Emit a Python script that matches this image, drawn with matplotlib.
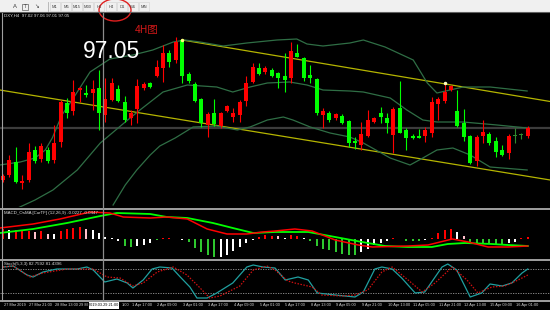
import matplotlib
matplotlib.use('Agg')
import matplotlib.pyplot as plt
import numpy as np
from matplotlib.patches import Rectangle, Ellipse
from matplotlib.lines import Line2D

# ---- DXY H4 candles (index 0 = 27 Mar 2019) ----
opens = [96.842, 96.862, 96.914, 96.830, 96.842, 96.962, 96.926, 96.962, 96.922, 96.994,
         97.150, 97.118, 97.202, 97.190, 97.190, 97.210, 97.102, 97.162, 97.206, 97.154,
         97.090, 97.126, 97.210, 97.230, 97.258, 97.290, 97.350, 97.322, 97.402, 97.266,
         97.226, 97.166, 97.062, 97.110, 97.058, 97.118, 97.094, 97.102, 97.158, 97.234,
         97.290, 97.274, 97.282, 97.270, 97.258, 97.250, 97.350, 97.330, 97.262, 97.246,
         97.102, 97.110, 97.090, 97.098, 97.078, 96.998, 96.982, 97.018, 97.074, 97.110,
         97.090, 97.022, 97.130, 97.042, 97.018, 97.018, 97.018, 97.030, 97.146, 97.158,
         97.202, 97.118, 97.070, 97.018, 96.918, 97.018, 97.026, 96.998, 96.962, 96.950,
         97.018, 97.022, 97.020]
highs = [96.866, 96.942, 96.974, 96.862, 96.990, 96.978, 96.990, 96.974, 97.062, 97.162,
         97.170, 97.242, 97.214, 97.222, 97.242, 97.282, 97.250, 97.250, 97.222, 97.178,
         97.122, 97.246, 97.234, 97.234, 97.322, 97.382, 97.362, 97.414, 97.406, 97.274,
         97.234, 97.170, 97.114, 97.166, 97.114, 97.142, 97.130, 97.162, 97.258, 97.310,
         97.310, 97.298, 97.290, 97.274, 97.350, 97.394, 97.386, 97.334, 97.302, 97.250,
         97.130, 97.118, 97.110, 97.106, 97.082, 97.014, 97.074, 97.122, 97.094, 97.134,
         97.110, 97.134, 97.238, 97.050, 97.026, 97.046, 97.054, 97.174, 97.174, 97.230,
         97.222, 97.202, 97.126, 97.022, 97.022, 97.082, 97.034, 97.014, 96.982, 97.026,
         97.050, 97.030, 97.060]
lows = [96.834, 96.854, 96.830, 96.806, 96.834, 96.910, 96.914, 96.910, 96.910, 96.974,
        97.090, 97.102, 97.154, 97.174, 97.122, 97.042, 97.074, 97.158, 97.154, 97.074,
        97.062, 97.070, 97.202, 97.210, 97.254, 97.234, 97.294, 97.310, 97.230, 97.230,
        97.154, 97.054, 97.014, 97.058, 97.050, 97.114, 97.074, 97.074, 97.138, 97.230,
        97.262, 97.266, 97.254, 97.210, 97.194, 97.230, 97.334, 97.238, 97.230, 97.102,
        97.050, 97.074, 97.082, 97.066, 96.974, 96.966, 96.962, 97.014, 97.070, 97.070,
        97.030, 96.950, 97.030, 96.962, 97.006, 97.010, 96.994, 97.014, 97.082, 97.150,
        97.198, 97.054, 96.998, 96.906, 96.898, 96.990, 96.982, 96.934, 96.938, 96.926,
        96.990, 97.006, 97.010]
closes = [96.858, 96.922, 96.834, 96.838, 96.954, 96.918, 96.978, 96.918, 96.990, 97.154,
          97.110, 97.194, 97.210, 97.182, 97.206, 97.110, 97.166, 97.230, 97.158, 97.082,
          97.110, 97.218, 97.226, 97.214, 97.294, 97.350, 97.314, 97.394, 97.258, 97.238,
          97.158, 97.070, 97.106, 97.066, 97.110, 97.138, 97.110, 97.154, 97.230, 97.294,
          97.266, 97.290, 97.258, 97.250, 97.242, 97.358, 97.334, 97.250, 97.250, 97.110,
          97.118, 97.082, 97.106, 97.070, 96.990, 96.990, 97.026, 97.082, 97.090, 97.094,
          97.070, 97.126, 97.030, 97.010, 97.010, 97.010, 97.042, 97.154, 97.166, 97.194,
          97.218, 97.058, 97.014, 96.910, 97.014, 97.034, 96.990, 96.954, 96.942, 97.018,
          97.018, 97.022, 97.050]

# Bollinger bands, read at bar positions
bb_up_i = [-0.5, 2.7, 5.0, 6.6, 7.7, 9.2, 10.8, 13.6, 16.7, 20.3, 23.4, 26.6, 28.4, 30.8, 34.4,
           38.1, 42.8, 45.9, 47.5, 50.0, 54.2, 56.3, 59.7, 64.1, 66.3, 67.8, 71.9, 76.1, 81.9]
bb_up_p = [96.902, 96.914, 96.930, 96.962, 97.010, 97.102, 97.162, 97.274, 97.326, 97.342, 97.362,
           97.394, 97.402, 97.394, 97.378, 97.390, 97.402, 97.406, 97.386, 97.378, 97.390, 97.402,
           97.374, 97.322, 97.230, 97.190, 97.214, 97.214, 97.198]
bb_mid_i = [-0.5, 2.3, 5.0, 7.8, 11.6, 15.2, 19.1, 21.4, 25.0, 28.8, 33.4, 35.9, 38.6, 41.3, 44.8,
            47.5, 50.0, 54.2, 56.3, 60.5, 63.1, 65.6, 67.8, 71.9, 77.2, 81.9]
bb_mid_p = [96.714, 96.730, 96.762, 96.802, 96.882, 96.990, 97.074, 97.122, 97.194, 97.222, 97.214,
            97.194, 97.214, 97.230, 97.234, 97.222, 97.202, 97.198, 97.194, 97.170, 97.122, 97.082,
            97.074, 97.074, 97.062, 97.050]
bb_low_i = [17.2, 19.1, 20.9, 23.0, 24.5, 26.9, 29.7, 33.4, 36.6, 38.6, 41.3, 43.8, 45.3, 48.0,
            51.1, 54.2, 56.3, 60.5, 63.6, 65.6, 67.8, 70.3, 73.0, 76.1, 81.9]
bb_low_p = [96.742, 96.822, 96.882, 96.942, 96.978, 97.010, 97.054, 97.058, 97.042, 97.054, 97.082,
            97.094, 97.082, 97.054, 97.030, 97.014, 96.990, 96.930, 96.902, 96.930, 96.962, 96.970,
            96.942, 96.894, 96.882]

# yellow channel (two ends of each line)
chan_low_i = [-0.5, 85.5]
chan_low_p = [97.202, 96.842]
chan_up_i = [28.0, 85.5]
chan_up_p = [97.402, 97.156]
bid = 97.05

# MACD OsMA histogram and its two lines
hist_px = [10, 9, 9, 8, 8, 7, 8, 5, 5, 8, 10, 11, 12, 10, 9, 6, 2, 1, -2, -7,
           -8, -7, -6, -4, -1, 1, 1.5, 0.5, -1, -3, -9, -13, -16, -18, -18, -16, -12, -8, -4, -1,
           2, 4, 3, 3, 1, 4, 3, 1, -2, -7, -10, -11, -13, -15, -16, -16, -13, -10, -6, -4,
           -2, 1, 0.5, -2, -2, -2, -1, 1, 6, 9, 10, 7, 3, -3, -4, -4, -5, -5, -6, -4,
           -3, 1, 2]
osma = [v * 0.005 for v in hist_px]
osma_col = "rwrrrprpwrrrrpwwwwwggwwwgrrwwggggg" "wwwwwwrrrpwrrwgggggggg" "wwwwwrwgggwrrrrwpggggggwwrr"
macd_i = [-0.5, 4.7, 10.0, 15.2, 17.8, 23.0, 25.6, 28.8, 32.8, 35.9, 39.1, 42.5, 47.7, 51.9, 56.1,
          59.7, 63.3, 67.0, 69.5, 72.2, 76.4, 78.9, 82.0]
macd_g = [0.030, 0.050, 0.080, 0.115, 0.130, 0.125, 0.110, 0.105, 0.080, 0.055, 0.030, 0.035,
          0.035, 0.010, -0.015, -0.035, -0.040, -0.040, -0.025, -0.020, -0.025, -0.030, -0.035]
sig_i = [-0.5, 4.7, 8.9, 13.6, 16.7, 18.8, 23.0, 25.6, 28.8, 31.9, 35.0, 38.1, 40.6, 42.5, 45.6,
         48.3, 51.9, 55.5, 57.7, 63.3, 66.4, 70.2, 72.7, 75.8, 78.9, 82.0]
sig_r = [0.055, 0.075, 0.100, 0.135, 0.130, 0.110, 0.105, 0.110, 0.100, 0.050, 0.025, 0.025, 0.035,
         0.040, 0.050, 0.040, -0.005, -0.030, -0.040, -0.035, -0.030, 0.000, -0.015, -0.040, -0.040,
         -0.035]

# Stochastic(5,3,3)
k_i = [0, 1.6, 3.75, 4.7, 6.25, 8.4, 11.6, 13.1, 14.1, 15.9, 17.8, 19.4, 20.3, 21.9, 23.3, 24.5,
       26.4, 27.7, 29.2, 30.3, 31.9, 33.4, 35.9, 38.1, 39.1, 40.6, 42.5, 44.1, 46.1, 47.7, 49.1,
       51.9, 55.0, 56.3, 58.1, 59.2, 60.8, 62.3, 64.4, 65.9, 68.6, 69.5, 70.9, 73.0, 74.8, 76.1,
       78.0, 79.5, 81.1, 82.0]
k_v = [85, 87.5, 65, 60, 72.5, 80, 80, 85, 77.5, 47.5, 55, 45, 32.5, 52.5, 80, 85, 82.5, 60, 35,
       7.5, 7.5, 20, 45, 85, 90, 85, 82.5, 52.5, 60, 52.5, 20, 15, 10, 22.5, 80, 85, 80, 57.5, 20,
       22.5, 85, 92.5, 77.5, 10, 20, 42.5, 37.5, 45, 70, 80]
d_i = [0, 1.6, 4.2, 6.25, 10.0, 14.1, 16.25, 18.3, 20.3, 21.9, 24.1, 26.6, 28.75, 30.8, 32.3, 33.9,
       37.0, 39.1, 41.25, 42.5, 44.5, 45.6, 48.3, 49.8, 53.0, 55.0, 57.0, 59.2, 60.8, 63.3, 65.5,
       67.5, 70.2, 72.5, 74.2, 76.4, 78.4, 80.5, 82.0]
d_v = [85, 87.5, 60, 70, 80, 80, 60, 57.5, 37.5, 45, 72.5, 85, 65, 32.5, 7.5, 12.5, 37.5, 77.5,
       87.5, 77.5, 50, 45, 35, 15, 12.5, 15, 27.5, 72.5, 85, 52.5, 22.5, 45, 85, 52.5, 20, 35, 37.5,
       52.5, 65]

time_labels = ["27 Mar 2019", "27 Mar 21:00", "28 Mar 13:00", "29 M", "1:00",
               "1 Apr 17:00", "2 Apr 09:00", "3 Apr 01:00", "3 Apr 17:00", "4 Apr 09:00",
               "5 Apr 01:00", "5 Apr 17:00", "8 Apr 13:00", "9 Apr 05:00", "9 Apr 21:00",
               "10 Apr 13:00", "11 Apr 05:00", "11 Apr 21:00", "12 Apr 13:00", "15 Apr 09:00",
               "16 Apr 01:00"]
label_bars = [0, 4, 8, 11.8, 18.4, 20, 24, 28, 32, 36, 40, 44, 48, 52, 56, 60, 64, 68, 72, 76, 80]
periods = ["M1", "M5", "M15", "M30", "H1", "H4", "D1", "W1", "MN"]

W, H = 550, 310
X0, X1 = -0.47, 85.47
fig = plt.figure(figsize=(W / 100, H / 100), dpi=100, facecolor='black')
plt.rcParams['font.family'] = ['Liberation Sans', 'DejaVu Sans']


def fy(py):
    return 1 - py / H


def pane(top, bottom, ylo, yhi):
    ax = fig.add_axes([0, fy(bottom), 1, (bottom - top) / H])
    ax.set_facecolor('black')
    ax.set_xlim(X0, X1)
    ax.set_ylim(ylo, yhi)
    ax.axis('off')
    return ax


# main price pane
ax = pane(13, 207, 96.734, 97.510)
ax.axhline(bid, color='#3c3c3c', lw=1.6, zorder=1)
ax.plot(chan_low_i, chan_low_p, color='#b5b500', lw=0.9, zorder=2)
ax.plot(chan_up_i, chan_up_p, color='#b5b500', lw=0.9, zorder=2)
for xs, ys in [(bb_up_i, bb_up_p), (bb_mid_i, bb_mid_p), (bb_low_i, bb_low_p)]:
    ax.plot(xs, ys, color='#2f6e45', lw=0.9, zorder=2)

o = np.array(opens); h = np.array(highs); l = np.array(lows); c = np.array(closes)
idx = np.arange(len(o))
cols = np.where(np.abs(c - o) < 1e-6, '#2e8b2e', np.where(c > o, '#ff0000', '#00ff00'))
ax.vlines(idx, l, h, colors=cols, lw=0.8, zorder=3)
body = np.maximum(np.abs(c - o), 0.004)
ax.bar(idx, body, bottom=np.minimum(o, c), width=0.65, color=cols, lw=0, zorder=4)
ax.plot([28], [97.404], 'o', ms=1.5, color='#ffff80', zorder=5)
ax.plot([69], [97.232], 'o', ms=1.5, color='#ffffc0', zorder=5)

# MACD pane
ax2 = pane(211, 258, -0.095, 0.140)
cmap = {'r': '#ff0000', 'w': '#ffffff', 'p': '#ffc0cb', 'g': '#2ec82e'}
ax2.bar(np.arange(len(osma)), osma, width=0.32, color=[cmap[k] for k in osma_col], lw=0)
ax2.plot(macd_i, macd_g, color='#00ff00', lw=1.3)
ax2.plot(sig_i, sig_r, color='#ff0000', lw=1.1)

# Stochastic pane
ax3 = pane(261, 301, 0, 100)
for lev in (20, 80):
    ax3.axhline(lev, color='#9a9a9a', lw=0.6, ls=(0, (1.5, 1.5)))
ax3.plot(k_i, k_v, color='#20a0a0', lw=0.9)
ax3.plot(d_i, d_v, color='#d01010', lw=0.9, ls=(0, (1.2, 1.2)))
for xb, lab in zip(label_bars, time_labels):
    ax3.text(xb + 0.1, -0.06, lab, transform=ax3.get_xaxis_transform(), color='#d8d8d8',
             fontsize=2.8, ha='left', va='top', clip_on=False)

# frame lines
for yy in (209, 259.5, 301):
    fig.add_artist(Line2D([0, 1], [fy(yy), fy(yy)], color='#a0a0a0', lw=1.4))
fig.add_artist(Line2D([1.5 / W, 1.5 / W], [fy(13), fy(301)], color='#a0a0a0', lw=0.8))
fig.add_artist(Line2D([103 / W, 103 / W], [fy(13), fy(301)], color='#8c8c8c', lw=0.9))

# crosshair date tag
fig.add_artist(Rectangle((88.5 / W, fy(308.5)), 30 / W, 6.5 / H, color='white', lw=0, zorder=5))
fig.text(103.5 / W, fy(305.3), "2019.03.29 21:00", fontsize=2.8, color='black', ha='center',
         va='center', zorder=6)

# toolbar
fig.add_artist(Rectangle((0, fy(12)), 1, 12 / H, color='#f0f0f0', lw=0))
fig.add_artist(Line2D([0, 1], [fy(12.3), fy(12.3)], color='#606060', lw=0.8))
fig.text(15 / W, fy(7), "A", fontsize=4.2, color='#404040', ha='center', va='center')
fig.add_artist(Rectangle((22 / W, fy(10)), 6 / W, 6 / H, fill=False, ec='#606060', lw=0.5))
fig.text(25 / W, fy(7), "T", fontsize=3.5, color='#404040', ha='center', va='center')
fig.text(37 / W, fy(7), "\u2198", fontsize=4, color='#404040', ha='center', va='center')
fig.add_artist(Line2D([48 / W, 48 / W], [fy(2), fy(11)], color='#b0b0b0', lw=0.6))
px_pos = [55, 66, 77, 88, 99, 111, 122, 133, 144]
for p, name in zip(px_pos, periods):
    fig.add_artist(Rectangle(((p - 5) / W, fy(11)), 10 / W, 9 / H, fill=False, ec='#d0d0d0', lw=0.4))
    fig.text(p / W, fy(6.8), name, fontsize=3.0, color='#404040', ha='center', va='center')
fig.add_artist(Ellipse((115 / W, fy(10)), 32 / W, 22 / H, fill=False, ec='#e02020', lw=1.0))

# chart texts
fig.text(4 / W, fy(16), "DXY,H4  97.02 97.06 97.01 97.05", fontsize=3.2, color='#e0e0e0', va='center')
fig.text(4 / W, fy(213), "MACD_OsMA [CurTF] (12,26,9) -0.0227 -0.0447", fontsize=3.2, color='#e0e0e0', va='center')
fig.text(4 / W, fy(264), "Stoch(5,3,3) 82.7592 81.4396", fontsize=3.2, color='#e0e0e0', va='center')
fig.text(83 / W, fy(58), "97.05", fontsize=16.5, color='white', va='baseline')
fig.text(135 / W, fy(32.5), "4H图", fontsize=7.5, color='#d01818', va='baseline',
         family=['Noto Sans CJK SC', 'DejaVu Sans'])

fig.savefig('out.png', dpi=100, facecolor='black')
